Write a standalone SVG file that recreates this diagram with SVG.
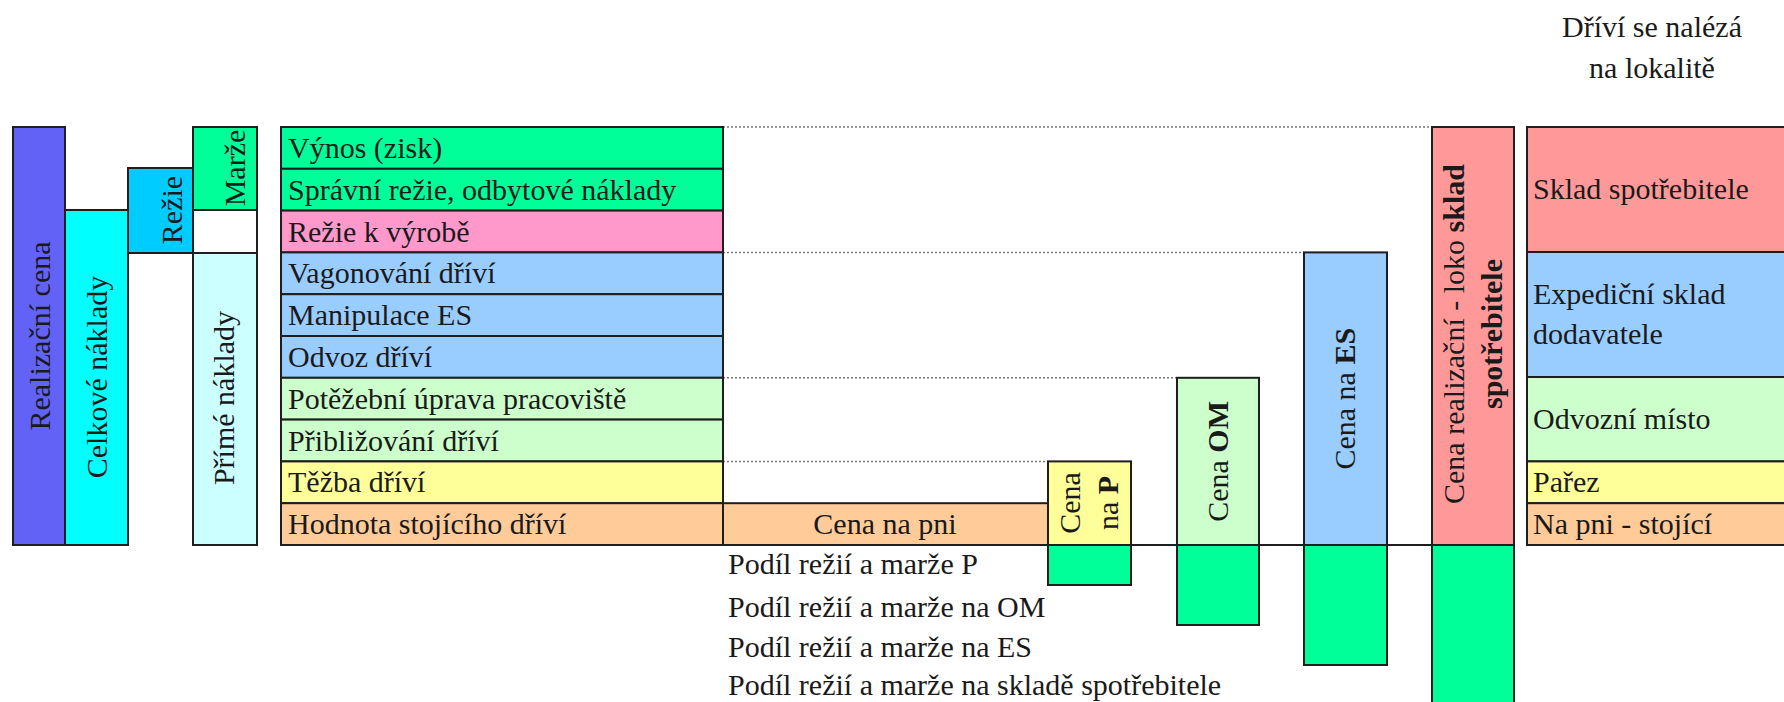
<svg xmlns="http://www.w3.org/2000/svg" width="1784" height="702" viewBox="0 0 1784 702">
<style>
rect{stroke:#1e1e1e;stroke-width:2}
rect.bg{stroke:none;fill:#fff}
text{font-family:"Liberation Serif","Times New Roman",serif;font-size:30px;fill:#1a1a1a}
.m{text-anchor:middle}
.b{font-weight:bold}
.dot{stroke:#777;stroke-width:1.5;stroke-dasharray:2 2;fill:none}
.ln{stroke:#1e1e1e;stroke-width:2;fill:none}
.g{fill:#00FF99}.pk{fill:#FF99CC}.bl{fill:#99CCFF}.lg{fill:#CCFFCC}.ye{fill:#FFFF99}.or{fill:#FFCC99}.rd{fill:#FF9999}
</style>
<rect class="bg" width="1784" height="702"/>
<g id="connectors">
<line class="dot" x1="723" y1="127" x2="1432" y2="127"/>
<line class="dot" x1="723" y1="252.4" x2="1304" y2="252.4"/>
<line class="dot" x1="723" y1="377.8" x2="1177" y2="377.8"/>
<line class="dot" x1="723" y1="461.4" x2="1048" y2="461.4"/>
<line class="ln" x1="1048" y1="545" x2="1432" y2="545"/>
</g>
<g id="realizacni-cena"><rect x="13" y="127" width="52" height="418" fill="#6262F7"/>
<text class="m" transform="translate(50,336) rotate(-90)">Realizační cena</text></g>
<g id="celkove-naklady"><rect x="65" y="210" width="63" height="335" fill="#00FFFF"/>
<text class="m" transform="translate(107,377) rotate(-90)">Celkové náklady</text></g>
<g id="rezie"><rect x="128" y="168" width="65" height="85" fill="#00CCFF"/>
<text class="m" transform="translate(182,210) rotate(-90)">Režie</text></g>
<g id="marze"><rect x="193" y="127" width="64" height="83" fill="#00FF99"/>
<text class="m" transform="translate(245,168) rotate(-90)">Marže</text></g>
<g id="prazdne"><rect x="193" y="210" width="64" height="43" fill="#FFFFFF"/></g>
<g id="prime-naklady"><rect x="193" y="253" width="64" height="292" fill="#CCFFFF"/>
<text class="m" transform="translate(234,398) rotate(-90)">Přímé náklady</text></g>
<g id="polozky">
<rect class="g" x="281" y="127" width="442" height="41.8"/><text x="288" y="158">Výnos (zisk)</text>
<rect class="g" x="281" y="168.8" width="442" height="41.8"/><text x="288" y="200">Správní režie, odbytové náklady</text>
<rect class="pk" x="281" y="210.6" width="442" height="41.8"/><text x="288" y="241.5">Režie k výrobě</text>
<rect class="bl" x="281" y="252.4" width="442" height="41.8"/><text x="288" y="283">Vagonování dříví</text>
<rect class="bl" x="281" y="294.2" width="442" height="41.8"/><text x="288" y="325">Manipulace ES</text>
<rect class="bl" x="281" y="336" width="442" height="41.8"/><text x="288" y="367">Odvoz dříví</text>
<rect class="lg" x="281" y="377.8" width="442" height="41.8"/><text x="288" y="409">Potěžební úprava pracoviště</text>
<rect class="lg" x="281" y="419.6" width="442" height="41.8"/><text x="288" y="450.5">Přibližování dříví</text>
<rect class="ye" x="281" y="461.4" width="442" height="41.8"/><text x="288" y="492">Těžba dříví</text>
<rect class="or" x="281" y="503.2" width="442" height="41.8"/><text x="288" y="534">Hodnota stojícího dříví</text>
</g>
<g id="cena-na-pni"><rect class="or" x="723" y="503.2" width="325" height="41.8"/><text class="m" x="885" y="534">Cena na pni</text></g>
<g id="cena-na-p"><rect class="ye" x="1048" y="461.4" width="83" height="83.6"/><rect class="g" x="1048" y="545" width="83" height="40"/>
<text class="m" transform="translate(1080,503) rotate(-90)">Cena</text>
<text class="m" transform="translate(1118,503) rotate(-90)">na <tspan class="b">P</tspan></text></g>
<g id="cena-om"><rect class="lg" x="1177" y="377.8" width="82" height="167.2"/><rect class="g" x="1177" y="545" width="82" height="80"/>
<text class="m" transform="translate(1228,461.4) rotate(-90)">Cena <tspan class="b">OM</tspan></text></g>
<g id="cena-es"><rect class="bl" x="1304" y="252.4" width="83" height="292.6"/><rect class="g" x="1304" y="545" width="83" height="120"/>
<text class="m" transform="translate(1355,398.7) rotate(-90)">Cena na <tspan class="b">ES</tspan></text></g>
<g id="cena-realizacni"><rect class="rd" x="1432" y="127" width="82" height="418"/><rect class="g" x="1432" y="545" width="82" height="170"/>
<text class="m" transform="translate(1464,334) rotate(-90)">Cena realizační - loko <tspan class="b">sklad</tspan></text>
<text class="m b" transform="translate(1502,334) rotate(-90)">spotřebitele</text></g>
<g id="podily">
<text x="728" y="574">Podíl režií a marže P</text>
<text x="728" y="617">Podíl režií a marže na OM</text>
<text x="728" y="657">Podíl režií a marže na ES</text>
<text x="728" y="695">Podíl režií a marže na skladě spotřebitele</text>
</g>
<g id="lokalita-nadpis"><text class="m" x="1652" y="37">Dříví se nalézá</text><text class="m" x="1652" y="78">na lokalitě</text></g>
<g id="lokality">
<rect class="rd" x="1527" y="127" width="270" height="125"/><text x="1533" y="199">Sklad spotřebitele</text>
<rect class="bl" x="1527" y="252" width="270" height="125"/><text x="1533" y="304">Expediční sklad</text><text x="1533" y="344">dodavatele</text>
<rect class="lg" x="1527" y="377" width="270" height="84.4"/><text x="1533" y="429">Odvozní místo</text>
<rect class="ye" x="1527" y="461.4" width="270" height="41.8"/><text x="1533" y="492">Pařez</text>
<rect class="or" x="1527" y="503.2" width="270" height="41.8"/><text x="1533" y="534">Na pni - stojící</text>
</g>
</svg>
